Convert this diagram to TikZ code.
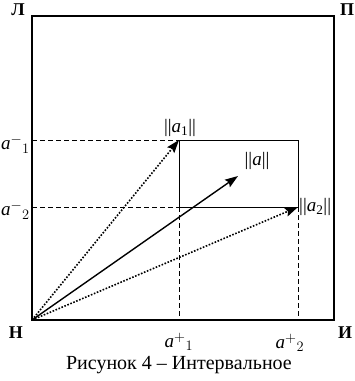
\documentclass[tikz,border=0pt]{standalone}
\usepackage{amsmath}
\usepackage{fontspec}
\setmainfont{Liberation Serif}
\usetikzlibrary{arrows.meta}

\begin{document}
\begin{tikzpicture}[x=1pt,y=-1pt]
        \tikzstyle{corner} = [font=\fontsize{18}{18}\selectfont\bfseries, inner sep=0pt]
        \tikzstyle{lbl} = [font=\fontsize{19}{19}\selectfont, inner sep=0pt]
        \tikzstyle{frame} = [line width=1.3pt]
        \tikzstyle{guide} = [line width=0.9pt, dash pattern=on 5pt off 3pt]
        \tikzstyle{arrow} = [line width=1.4pt, -{Stealth[length=13pt,width=9pt,inset=2pt]}]
        \tikzstyle{dotarrow} = [line width=1.6pt, dash pattern=on 1.6pt off 1.6pt, -{Stealth[length=13pt,width=9pt,inset=2pt]}]

        \useasboundingbox (0,0) rectangle (355,381);

        % outer square
        \coordinate (o) at (32,320);
        \coordinate (tl) at (32,16);
        \coordinate (tr) at (334,16);
        \coordinate (br) at (334,320);
        \draw [frame] (o) -- (tl) -- (tr) -- (br) -- cycle;

        % interval box
        \coordinate (p1) at (179,140);
        \coordinate (p2) at (298,207);
        \coordinate (q1) at (298,140);
        \coordinate (q2) at (179,207);
        \coordinate (pa) at (238,176);
        \draw [line width=1pt] (p1) -- (q1) -- (p2) -- (q2) -- cycle;

        % projections
        \coordinate (l1) at (32,140);
        \coordinate (l2) at (32,207);
        \coordinate (b1) at (179,320);
        \coordinate (b2) at (298,320);
        \draw [guide] (l1) -- (p1);
        \draw [guide] (l2) -- (q2);
        \draw [guide] (q2) -- (b1);
        \draw [guide] (p2) -- (b2);

        % vectors
        \draw [dotarrow] (o) -- (p1);
        \draw [dotarrow] (o) -- (p2);
        \draw [arrow] (o) -- (pa);

        % labels
        \node (L) [corner] at (18,10) {Л};
        \node (P) [corner] at (347,10) {П};
        \node (N) [corner] at (16,333) {Н};
        \node (I) [corner] at (345,333) {И};
        \node (am1) [lbl, anchor=east] at (30,144) {\textit{a}$^{-}{}_{1}$};
        \node (am2) [lbl, anchor=east] at (30,210) {\textit{a}$^{-}{}_{2}$};
        \node (ap1) [lbl] at (179,342) {\textit{a}$^{+}{}_{1}$};
        \node (ap2) [lbl] at (290,343) {\textit{a}$^{+}{}_{2}$};
        \node (na1) [lbl] at (180,128) {||\textit{a}\textsubscript{1}||};
        \node (na) [lbl] at (257,161) {||\textit{a}||};
        \node (na2) [lbl, anchor=west] at (299,207) {||\textit{a}\textsubscript{2}||};
        \node (cap) [font=\fontsize{20}{20}\selectfont] at (179,365) {Рисунок 4 – Интервальное};
\end{tikzpicture}
\end{document}
